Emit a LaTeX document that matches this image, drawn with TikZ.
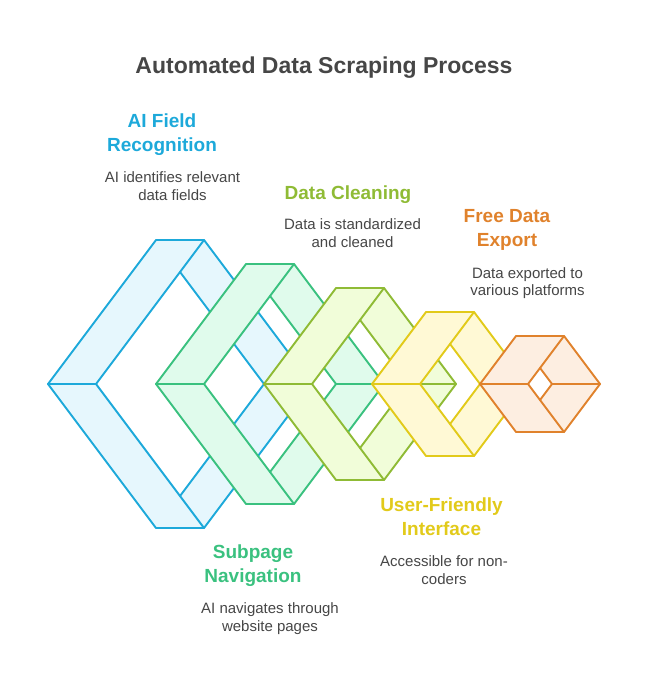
\documentclass[tikz,border=0pt]{standalone}
\usepackage{fontspec}
\setmainfont{Liberation Sans}
\usetikzlibrary{positioning}

\definecolor{cblue}{HTML}{1DA9DA}
\definecolor{fblue}{HTML}{E6F7FD}
\definecolor{cgreen}{HTML}{3AC17F}
\definecolor{fgreen}{HTML}{E0FBEC}
\definecolor{clime}{HTML}{8FBB35}
\definecolor{flime}{HTML}{F1FDD9}
\definecolor{cyellow}{HTML}{E2CA1A}
\definecolor{fyellow}{HTML}{FFF9D5}
\definecolor{corange}{HTML}{E0822C}
\definecolor{forange}{HTML}{FDEEE1}
\definecolor{txtgray}{HTML}{464646}

\begin{document}
\begin{tikzpicture}[x=1pt,y=-1pt,node distance=16pt,
	title/.style={font=\fontsize{23}{28}\selectfont\bfseries,text=txtgray,inner sep=0pt,anchor=north},
	head/.style={font=\fontsize{19}{24}\selectfont\bfseries,text=#1,align=center,inner sep=0pt,anchor=north},
	desc/.style={font=\fontsize{15}{17.5}\selectfont,text=txtgray,align=center,inner sep=0pt},
	ring/.style={draw=c#1,fill=f#1,line width=1.9pt,line join=round,even odd rule},
	edge/.style={draw=c#1,line width=1.9pt,line cap=round}]
	\useasboundingbox (0,0) rectangle (648,684);

	% Frames, back to front
	\foreach \lx/\hh/\cs in {48/144/blue,156/120/green,264/96/lime,372/72/yellow,480/48/orange}{
		\pgfmathsetmacro{\ih}{\hh-32}
		\begin{scope}[shift={(\lx,384)}]
			\path[ring=\cs] (0,0) -- ({0.75*\hh},-\hh) -- ({0.75*\hh+48},-\hh) -- ({1.5*\hh+48},0)
				-- ({0.75*\hh+48},\hh) -- ({0.75*\hh},\hh) -- cycle
				(48,0) -- ({48+0.75*\ih},-\ih) -- ({48+1.5*\ih},0) -- ({48+0.75*\ih},\ih) -- cycle;
			\path[edge=\cs] (0,0) -- (48,0) ({48+1.5*\ih},0) -- ({1.5*\hh+48},0)
				({48+0.75*\ih},-\ih) -- ({0.75*\hh+48},-\hh) ({48+0.75*\ih},\ih) -- ({0.75*\hh+48},\hh);
		\end{scope}
	}

	% Place nodes
	\node[title] (ttl) at (324,56.5) {Automated Data Scraping Process};
	\node[head=cblue] (recog) at (162,113.5) {AI Field\\Recognition};
	\node[desc,below=of recog,xshift=10.5pt] (recogd) {AI identifies relevant\\data fields};
	\node[head=clime] (clean) at (348,185.7) {Data Cleaning};
	\node[desc,below=15pt of clean,xshift=4.5pt] (cleand) {Data is standardized\\and cleaned};
	\node[head=corange] (export) at (507,209.7) {Free Data\\Export};
	\node[desc,below=of export,xshift=20.5pt] (exportd) {Data exported to\\various platforms};
	\node[head=cyellow] (iface) at (441.5,497.1) {User-Friendly\\Interface};
	\node[desc,below=20pt of iface,xshift=2.5pt] (ifaced) {Accessible for non-\\coders};
	\node[head=cgreen] (nav) at (253,544.7) {Subpage\\Navigation};
	\node[desc,below=of nav,xshift=17pt] (navd) {AI navigates through\\website pages};

\end{tikzpicture}
\end{document}
